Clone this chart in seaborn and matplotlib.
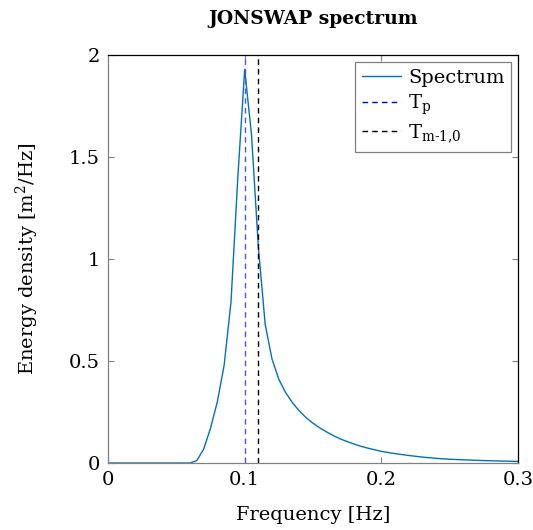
import numpy as np
import pandas as pd
import seaborn as sns
import matplotlib.pyplot as plt
from matplotlib.ticker import FuncFormatter

# spectrum (frequency in Hz, energy density in m^2/Hz)
freq = [0.0, 0.055, 0.060, 0.065, 0.070, 0.075, 0.080, 0.085, 0.090, 0.095,
        0.100, 0.105, 0.110, 0.115, 0.120, 0.125, 0.130, 0.135, 0.140, 0.145,
        0.150, 0.155, 0.160, 0.165, 0.170, 0.175, 0.180, 0.185, 0.190, 0.195,
        0.200, 0.210, 0.220, 0.230, 0.240, 0.250, 0.260, 0.270, 0.280, 0.290,
        0.300]
energy = [0.0, 0.0, 0.0, 0.012, 0.068, 0.170, 0.300, 0.480, 0.790, 1.400,
          1.930, 1.610, 1.060, 0.680, 0.510, 0.410, 0.345, 0.295, 0.255, 0.222,
          0.195, 0.172, 0.152, 0.134, 0.118, 0.105, 0.093, 0.082, 0.073, 0.065,
          0.057, 0.046, 0.037, 0.029, 0.023, 0.0185, 0.0156, 0.013, 0.011, 0.0093,
          0.0078]
f_peak = 0.1      # T_p
f_m10 = 0.11      # T_m-1,0

df = pd.DataFrame({'Frequency': freq, 'Energy': energy})

sns.set_style('white')
plt.rcParams['font.family'] = ['DejaVu Serif']
plt.rcParams['mathtext.fontset'] = 'dejavuserif'
plt.rcParams['text.color'] = 'black'
plt.rcParams['axes.labelcolor'] = 'black'

fig = plt.figure(figsize=(5.33, 5.30), dpi=100)
ax = fig.add_axes([0.2026, 0.1264, 0.7693, 0.7698])

sns.lineplot(data=df, x='Frequency', y='Energy', color='#0072bd', linewidth=1.0,
             label='Spectrum', ax=ax, zorder=2)
ax.axvline(f_peak, color='#5050ff', linestyle=(0, (4, 3)), linewidth=1.0,
           label=r'T$_\mathrm{p}$', zorder=3)
ax.axvline(f_m10, color='black', linestyle=(0, (4, 3)), linewidth=1.0,
           label=r'T$_{\mathrm{m\text{-}1{,}0}}$', zorder=3)

ax.set_xlim(0, 0.3)
ax.set_ylim(0, 2)
ax.set_xticks([0, 0.1, 0.2, 0.3])
ax.set_yticks([0, 0.5, 1, 1.5, 2])
fmt = FuncFormatter(lambda v, p: '%g' % v)
ax.xaxis.set_major_formatter(fmt)
ax.yaxis.set_major_formatter(fmt)
ax.tick_params(direction='in', length=4, width=0.8, color='#808080', labelcolor='black',
               labelsize=14, top=True, right=True, left=True, bottom=True, pad=6)

for side in ['left', 'bottom']:
    ax.spines[side].set_color('#808080')
for side in ['top', 'right']:
    ax.spines[side].set_color('black')
for sp in ax.spines.values():
    sp.set_linewidth(0.9)

ax.set_title('JONSWAP spectrum', fontsize=13.5, fontweight='bold', pad=22)
ax.set_xlabel('Frequency [Hz]', fontsize=14, labelpad=12)
ax.set_ylabel(r'Energy density [m$^2$/Hz]', fontsize=14, labelpad=20)

leg = ax.legend(loc='upper right', fontsize=14, frameon=True, fancybox=False,
                borderaxespad=0.35, handlelength=2.0, handletextpad=0.35,
                labelspacing=0.3, borderpad=0.35)
leg.get_frame().set_edgecolor('#808080')
leg.get_frame().set_linewidth(0.9)
leg.get_frame().set_alpha(1)
leg.get_lines()[1].set_color('blue')

fig.savefig('out.png', dpi=100)
